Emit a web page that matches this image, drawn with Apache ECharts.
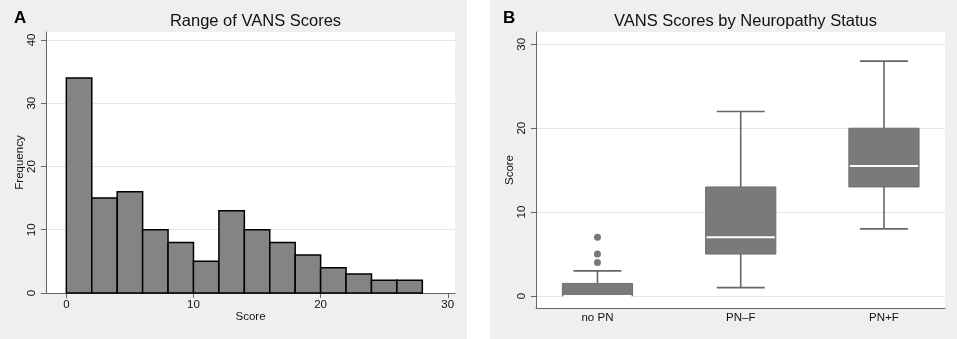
<!DOCTYPE html>
<html>
<head>
<meta charset="utf-8">
<script src="https://cdn.jsdelivr.net/npm/echarts@6/dist/echarts.min.js"></script>
<style>
  html, body { margin: 0; padding: 0; background: #fff; }
  #chart { width: 957px; height: 339px; }
</style>
</head>
<body>
<div id="chart"></div>
<script>
// histogram (panel A)
const binStarts = [0, 2, 4, 6, 8, 10, 12, 14, 16, 18, 20, 22, 24, 26];
const binWidth = 2;
const frequencies = [34, 15, 16, 10, 8, 5, 13, 10, 8, 6, 4, 3, 2, 2];
const histXTicks = [0, 10, 20, 30];
const histYTicks = [0, 10, 20, 30, 40];

// box plots (panel B)
const groups = ['no PN', 'PN–F', 'PN+F'];
const boxMin = [0, 1, 8];
const boxQ1 = [0, 5, 13];
const boxMedian = [0, 7, 15.5];
const boxQ3 = [1.5, 13, 20];
const boxMax = [3, 22, 28];
const outlierGroup = [0, 0, 0];
const outlierValue = [4, 5, 7];
const boxYTicks = [0, 10, 20, 30];

const FONT = "'Liberation Sans', Arial, Helvetica, sans-serif";
const AXIS_COLOR = '#666';
const TEXT_COLOR = '#111';

const histData = binStarts.map((s, i) => [s, s + binWidth, frequencies[i]]);
const boxData = groups.map((g, i) => [i + 1, boxMin[i], boxQ1[i], boxMedian[i], boxQ3[i], boxMax[i]]);
const outlierData = outlierGroup.map((g, i) => [g + 1, outlierValue[i]]);

function baseAxis() {
  return {
    nameMoveOverlap: false,
    axisLine: { show: true, onZero: false, lineStyle: { color: AXIS_COLOR, width: 1 } },
    axisTick: { show: true, length: 5, lineStyle: { color: AXIS_COLOR } },
    axisLabel: { color: TEXT_COLOR, fontFamily: FONT, fontSize: 11.5 },
    nameTextStyle: { color: TEXT_COLOR, fontFamily: FONT, fontSize: 11.5 },
    splitLine: { show: false }
  };
}

const chart = echarts.init(document.getElementById('chart'), null, { renderer: 'canvas' });

const option = {
  animation: false,
  backgroundColor: '#fff',
  graphic: [
    { type: 'rect', z: -10, shape: { x: 0, y: 0, width: 467, height: 339 }, style: { fill: '#efefef' } },
    { type: 'rect', z: -10, shape: { x: 490, y: 0, width: 467, height: 339 }, style: { fill: '#efefef' } }
  ],
  title: [
    { text: 'A', left: 9, top: 5, textStyle: { fontFamily: FONT, fontSize: 17, fontWeight: 'bold', color: '#000' } },
    { text: 'Range of VANS Scores', left: 250.5, top: 8, textAlign: 'center',
      textStyle: { fontFamily: FONT, fontSize: 16.5, fontWeight: 'normal', color: TEXT_COLOR } },
    { text: 'B', left: 498, top: 5, textStyle: { fontFamily: FONT, fontSize: 17, fontWeight: 'bold', color: '#000' } },
    { text: 'VANS Scores by Neuropathy Status', left: 740.5, top: 8, textAlign: 'center',
      textStyle: { fontFamily: FONT, fontSize: 16.5, fontWeight: 'normal', color: TEXT_COLOR } }
  ],
  grid: [
    { left: 46, top: 32, width: 409, height: 261, show: true, backgroundColor: '#fff', borderWidth: 0 },
    { left: 536, top: 32, width: 409, height: 276, show: true, backgroundColor: '#fff', borderWidth: 0 }
  ],
  xAxis: [
    Object.assign(baseAxis(), {
      gridIndex: 0, type: 'value', min: -1.6, max: 30.57,
      name: 'Score', nameLocation: 'middle', nameGap: 18,
      axisTick: { show: true, length: 5, lineStyle: { color: AXIS_COLOR }, customValues: histXTicks },
      axisLabel: { color: TEXT_COLOR, fontFamily: FONT, fontSize: 11.5, margin: 6, customValues: histXTicks }
    }),
    Object.assign(baseAxis(), {
      gridIndex: 1, type: 'value', min: 0.571, max: 3.426,
      axisTick: { show: false },
      axisLabel: { color: TEXT_COLOR, fontFamily: FONT, fontSize: 11.5, margin: 4, customValues: [1, 2, 3],
        formatter: v => groups[Math.round(v) - 1] || '' }
    })
  ],
  yAxis: [
    Object.assign(baseAxis(), {
      gridIndex: 0, type: 'value', min: 0, max: 41.26,
      name: 'Frequency', nameLocation: 'middle', nameGap: 20,
      axisTick: { show: true, length: 5, lineStyle: { color: AXIS_COLOR }, customValues: histYTicks },
      axisLabel: { color: TEXT_COLOR, fontFamily: FONT, fontSize: 11.5, margin: 8, rotate: 90, customValues: histYTicks },
      splitLine: { show: true, lineStyle: { color: '#e6e6e6', width: 1 } }
    }),
    Object.assign(baseAxis(), {
      gridIndex: 1, type: 'value', min: -1.43, max: 31.47,
      name: 'Score', nameLocation: 'middle', nameGap: 20,
      axisTick: { show: true, length: 5, lineStyle: { color: AXIS_COLOR }, customValues: boxYTicks },
      axisLabel: { color: TEXT_COLOR, fontFamily: FONT, fontSize: 11.5, margin: 8, rotate: 90, customValues: boxYTicks },
      splitLine: { show: true, lineStyle: { color: '#e6e6e6', width: 1 } }
    })
  ],
  series: [
    {
      type: 'custom',
      xAxisIndex: 0, yAxisIndex: 0,
      data: histData,
      renderItem: function (params, api) {
        const p0 = api.coord([api.value(0), 0]);
        const p1 = api.coord([api.value(1), api.value(2)]);
        return {
          type: 'rect',
          shape: { x: p0[0], y: p1[1], width: p1[0] - p0[0], height: p0[1] - p1[1] },
          style: { fill: '#848484', stroke: '#000', lineWidth: 1.5 }
        };
      }
    },
    {
      type: 'custom',
      xAxisIndex: 1, yAxisIndex: 1,
      data: boxData,
      renderItem: function (params, api) {
        const x = api.value(0);
        const half = api.size([0.49, 0])[0] / 2;
        const capHalf = api.size([0.335, 0])[0] / 2;
        const cx = api.coord([x, 0])[0];
        const yMin = api.coord([x, api.value(1)])[1];
        const yQ1 = api.coord([x, api.value(2)])[1];
        const yMed = api.coord([x, api.value(3)])[1];
        const yQ3 = api.coord([x, api.value(4)])[1];
        const yMax = api.coord([x, api.value(5)])[1];
        const whisker = { stroke: '#666', lineWidth: 1.6 };
        return {
          type: 'group',
          children: [
            { type: 'line', shape: { x1: cx, y1: yQ3, x2: cx, y2: yMax }, style: whisker },
            { type: 'line', shape: { x1: cx - capHalf, y1: yMax, x2: cx + capHalf, y2: yMax }, style: whisker },
            { type: 'line', shape: { x1: cx, y1: yQ1, x2: cx, y2: yMin }, style: whisker },
            { type: 'line', shape: { x1: cx - capHalf, y1: yMin, x2: cx + capHalf, y2: yMin }, style: whisker },
            { type: 'rect', shape: { x: cx - half, y: yQ3, width: half * 2, height: yQ1 - yQ3 },
              style: { fill: '#7a7a7a', stroke: '#6e6e6e', lineWidth: 1 } },
            { type: 'line', shape: { x1: cx - half + 1, y1: yMed, x2: cx + half - 1, y2: yMed },
              style: { stroke: '#fff', lineWidth: 2 } }
          ]
        };
      }
    },
    {
      type: 'scatter',
      xAxisIndex: 1, yAxisIndex: 1,
      data: outlierData,
      symbol: 'circle',
      symbolSize: 7,
      itemStyle: { color: '#555' }
    }
  ]
};

chart.setOption(option);
</script>
</body>
</html>
